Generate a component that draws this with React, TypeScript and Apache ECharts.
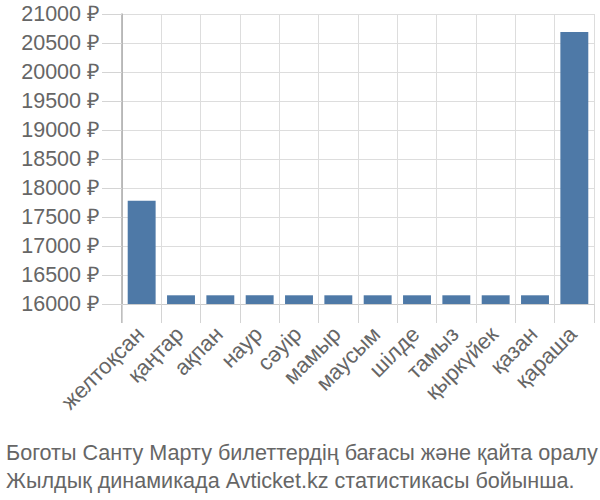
import React, { useEffect, useRef } from "react";
import * as echarts from "echarts";

const categories = ["желтоқсан", "қаңтар", "ақпан", "наур", "сәуір", "мамыр", "маусым", "шілде", "тамыз", "қыркүйек", "қазан", "қараша"];
const prices = [17780, 16150, 16150, 16150, 16150, 16150, 16150, 16150, 16150, 16150, 16150, 20690];
const titleLines = [
  "Боготы Санту Марту билеттердің бағасы және қайта оралу",
  "Жылдық динамикада Avticket.kz статистикасы бойынша.",
];

export default function App() {
  const ref = useRef<HTMLDivElement>(null);
  useEffect(() => {
    if (!ref.current) return;
    const chart = echarts.init(ref.current, null, { renderer: "svg" });
    chart.setOption({
      animation: false,
      textStyle: { fontFamily: "Liberation Sans" },
      title: {
        text: titleLines.join("\n"),
        left: 1,
        top: 433,
        textStyle: { fontSize: 21.6, fontWeight: "normal", color: "#666", lineHeight: 28, fontFamily: "Liberation Sans" },
      },
      grid: { left: 122, right: 6, top: 14, bottom: 196, containLabel: false },
      xAxis: {
        type: "category",
        data: categories,
        boundaryGap: true,
        axisLine: { show: true, lineStyle: { color: "#ccc", width: 1 } },
        axisTick: { show: true, inside: false, length: 19, lineStyle: { color: "#d4d4d4", width: 1 } },
        splitLine: { show: true, lineStyle: { color: "#ddd" } },
        axisLabel: { rotate: 45, fontSize: 22, color: "#666", margin: 25, padding: [0, 2, 0, 0], interval: 0 },
      },
      yAxis: {
        type: "value",
        min: 16000,
        max: 21000,
        interval: 500,
        axisLine: { show: true, lineStyle: { color: "#aaa", width: 1.5 } },
        axisTick: { show: true, inside: false, length: 20, lineStyle: { color: "#d4d4d4", width: 1 } },
        splitLine: { show: true, lineStyle: { color: "#ddd" } },
        axisLabel: { fontSize: 21.5, color: "#666", margin: 22, formatter: (v: number) => `${v} ₽` },
      },
      graphic: [
        {
          type: "line",
          shape: { x1: 122, y1: 304, x2: 122, y2: 323 },
          style: { stroke: "#aaa", lineWidth: 1.5 },
          silent: true,
        },
      ],
      series: [
        {
          type: "bar",
          data: prices,
          barCategoryGap: "29%",
          itemStyle: { color: "#4e79a7" },
        },
      ],
    });
    return () => chart.dispose();
  }, []);
  return <div ref={ref} style={{ width: 600, height: 500, position: "absolute", left: 0, top: 0 }} />;
}
